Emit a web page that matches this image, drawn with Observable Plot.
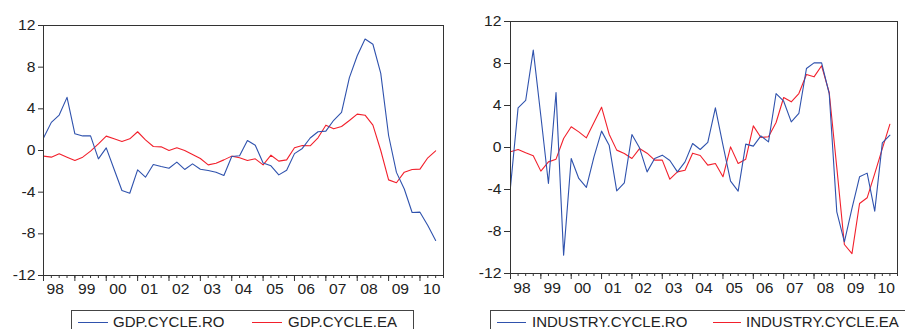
<!DOCTYPE html>
<html><head><meta charset="utf-8">
<script src="https://cdn.jsdelivr.net/npm/d3@7"></script>
<script src="https://cdn.jsdelivr.net/npm/@observablehq/plot@0.6"></script>
<style>
html,body{margin:0;padding:0;background:#fff;}
body{width:905px;height:329px;overflow:hidden;position:relative;font-family:"Liberation Sans",Arial,sans-serif;color:#222;}
.panel{position:absolute;top:0;}
.legend{position:absolute;top:310px;height:40px;border:1px solid #444;background:#fff;box-sizing:border-box;}
.sample{position:absolute;height:0;border-top:1.3px solid;}
.ltext{position:absolute;font-size:15px;line-height:16px;white-space:nowrap;}
</style>
</head><body>
<div id="left" class="panel" style="left:0px"></div>
<div id="right" class="panel" style="left:455px"></div>
<script>
// Quarterly observations 1998Q1 .. 2010Q3 (index 0..50), axis runs to 2010Q4
const gdpRO = [1.2,2.7,3.4,5.1,1.6,1.4,1.4,-0.8,0.25,-1.8,-3.84,-4.1,-1.86,-2.56,-1.34,-1.54,-1.7,-1.12,-1.82,-1.28,-1.8,-1.92,-2.08,-2.4,-0.58,-0.5,0.96,0.5,-1.2,-1.47,-2.34,-1.9,-0.3,0.2,1.2,1.8,1.86,2.9,3.65,7.0,9.1,10.7,10.2,7.4,1.44,-2.1,-3.7,-5.95,-5.92,-7.2,-8.64];
const gdpEA = [-0.54,-0.64,-0.32,-0.64,-0.96,-0.64,-0.06,0.64,1.38,1.12,0.86,1.12,1.8,1.02,0.38,0.35,0,0.26,0,-0.38,-0.77,-1.38,-1.22,-0.9,-0.54,-0.7,-0.96,-0.8,-1.38,-0.45,-1.02,-0.9,0.26,0.48,0.45,1.22,2.43,2.08,2.3,2.88,3.49,3.39,2.43,0,-2.82,-3.1,-2.08,-1.82,-1.79,-0.7,-0.03];
const indRO = [-3.75,3.78,4.48,9.27,3.0,-3.43,5.24,-10.25,-1.05,-2.95,-3.8,-0.9,1.56,0.22,-4.13,-3.37,1.24,-0.03,-2.32,-1.05,-0.73,-1.24,-2.32,-1.37,0.38,-0.19,0.48,3.78,0.22,-3.2,-4.16,0.32,0.13,1.11,0.54,5.14,4.41,2.44,3.24,7.52,8.06,8.06,5.14,-6.13,-8.98,-5.8,-2.79,-2.44,-6.06,0.44,1.17];
const indEA = [-0.41,-0.19,-0.51,-0.79,-2.25,-1.37,-1.11,0.86,1.97,1.49,0.92,2.38,3.84,1.27,-0.25,-0.57,-1.05,-0.1,-0.54,-1.2,-1.2,-3.02,-2.32,-2.16,-0.54,-0.76,-1.68,-1.52,-2.79,0.06,-1.52,-1.11,2.06,0.95,1.02,2.38,4.76,4.35,5.14,6.95,6.73,7.78,5.24,-1.9,-9.24,-10.1,-5.33,-4.79,-2.48,-0.1,2.22];
const yearLabels = ["98","99","00","01","02","03","04","05","06","07","08","09","10"];
const yTicks = [-12,-8,-4,0,4,8,12];
const legendLeft = ["GDP.CYCLE.RO","GDP.CYCLE.EA"];
const legendRight = ["INDUSTRY.CYCLE.RO","INDUSTRY.CYCLE.EA"];

const BLUE = "#2f52ad", RED = "#f2202c", INK = "#333";

function panel(ro, ea, m) {
  return Plot.plot({
    width: 450, height: 305,
    marginLeft: m.left, marginRight: m.right, marginTop: m.top, marginBottom: m.bottom,
    style: {fontFamily: "'Liberation Sans', Arial, sans-serif", fontSize: "13px", color: "#222", background: "transparent", overflow: "visible"},
    x: {domain: [0, 51], axis: null},
    y: {domain: [-12, 12], axis: null},
    marks: [
      Plot.axisY({ticks: yTicks, tickSize: m.ytick, tickPadding: 3, fontSize: 14, stroke: INK, tickFormat: d => String(d)}),
      Plot.axisX({ticks: d3.range(0, 52), tickSize: 3, tickFormat: () => "", stroke: INK}),
      Plot.axisX({ticks: d3.range(0, 52, 4), tickSize: 6, tickFormat: () => "", stroke: INK}),
      Plot.text(yearLabels, {x: (d, i) => 4 * i + 1.5, y: () => -12, dy: m.labelDy, text: d => d, fontSize: 14, fill: "#222"}),
      Plot.lineY(ea, {x: (d, i) => i, y: d => d, stroke: RED, strokeWidth: 1.1}),
      Plot.lineY(ro, {x: (d, i) => i, y: d => d, stroke: BLUE, strokeWidth: 1.1}),
      Plot.frame({stroke: INK, strokeWidth: 1})
    ]
  });
}

document.getElementById("left").append(panel(gdpRO, gdpEA, {left: 43, right: 7, top: 25, bottom: 30, ytick: 5, labelDy: 14}));
document.getElementById("right").append(panel(indRO, indEA, {left: 55, right: 8, top: 21, bottom: 32, ytick: 6, labelDy: 15}));

// widen axis text slightly, like the reference's stretched lettering
document.querySelectorAll("svg text").forEach(t => {
  const len = t.getComputedTextLength();
  if (len > 0) { t.setAttribute("textLength", (len * 1.12).toFixed(1)); t.setAttribute("lengthAdjust", "spacingAndGlyphs"); }
});

function legend(x, w, labels, parts) {
  const box = document.createElement("div");
  box.className = "legend";
  box.style.left = x + "px"; box.style.width = w + "px";
  document.body.append(box);
  [BLUE, RED].forEach((c, k) => {
    const s = document.createElement("div");
    s.className = "sample";
    s.style.borderTopColor = c;
    s.style.left = parts[k][0] + "px"; s.style.width = parts[k][1] + "px"; s.style.top = "322px";
    document.body.append(s);
    const t = document.createElement("div");
    t.className = "ltext";
    t.textContent = labels[k];
    t.style.left = parts[k][2] + "px"; t.style.top = "314px";
    document.body.append(t);
  });
}
legend(70.5, 343, legendLeft, [[78, 30, 113], [252, 30, 288]]);
legend(490, 420, legendRight, [[497, 29, 532], [713, 28, 746]]);
</script>
</body></html>
